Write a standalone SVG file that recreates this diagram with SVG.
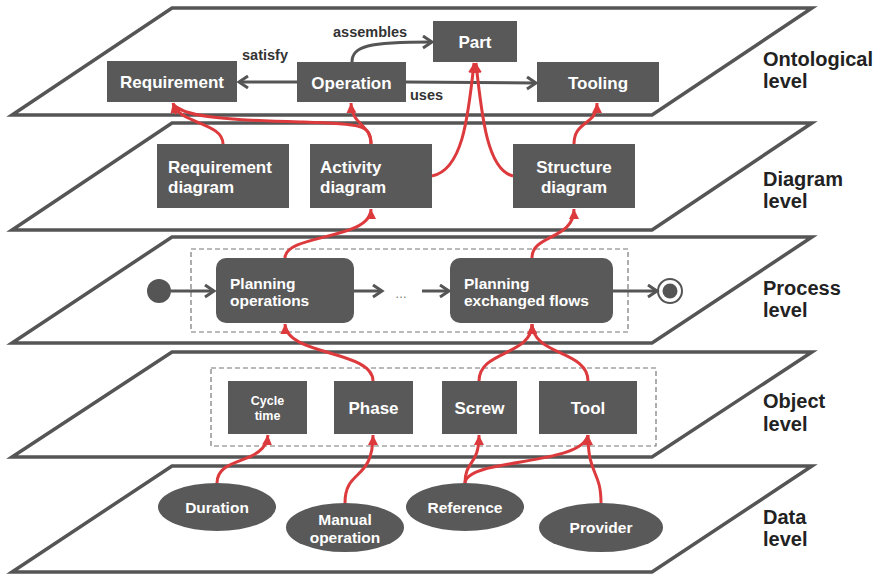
<svg xmlns="http://www.w3.org/2000/svg" width="877" height="574" viewBox="0 0 877 574">
<style>
  .plane { fill: #ffffff; stroke: #555555; stroke-width: 3.5; stroke-linejoin: miter; }
  .node { fill: #595959; }
  .ntext { font-family: "Liberation Sans", Arial, sans-serif; font-weight: bold; fill: #ffffff; font-size: 17px; }
  .stext { font-family: "Liberation Sans", Arial, sans-serif; font-weight: bold; fill: #ffffff; font-size: 12.5px; }
  .ptext { font-family: "Liberation Sans", Arial, sans-serif; font-weight: bold; fill: #ffffff; font-size: 15.5px; }
  .level { font-family: "Liberation Sans", Arial, sans-serif; font-weight: bold; fill: #222222; font-size: 20px; }
  .elabel { font-family: "Liberation Sans", Arial, sans-serif; font-weight: bold; fill: #333333; font-size: 14.5px; }
  .gray { fill: none; stroke: #555555; stroke-width: 3; marker-end: url(#chev); }
  .red { fill: none; stroke: #dc3a3c; stroke-width: 3; marker-end: url(#tri); }
  .dash { fill: none; stroke: #777777; stroke-width: 1.2; stroke-dasharray: 5 3; }
</style>
<defs>
  <marker id="chev" markerUnits="userSpaceOnUse" markerWidth="16" markerHeight="16" refX="10" refY="7" orient="auto" viewBox="0 0 16 16">
    <path d="M1,1 L10,7 L1,13" fill="none" stroke="#555555" stroke-width="3"/>
  </marker>
  <marker id="tri" markerUnits="userSpaceOnUse" markerWidth="12" markerHeight="12" refX="10" refY="5" orient="auto" viewBox="0 0 12 10">
    <path d="M0,0 L10,5 L0,10 z" fill="#dc3a3c"/>
  </marker>
</defs>

<g id="planes">
  <polygon id="plane-ontological" class="plane" points="172,8 812,8 652,115 12,115"/>
  <polygon id="plane-diagram" class="plane" points="172,123 812,123 652,230 12,230"/>
  <polygon id="plane-process" class="plane" points="172,237 812,237 652,343 12,343"/>
  <polygon id="plane-object" class="plane" points="172,352 812,352 652,457 12,457"/>
  <polygon id="plane-data" class="plane" points="172,466 812,466 652,572 12,572"/>
</g>

<g id="level-labels">
  <text class="level" x="763" y="66">Ontological</text>
  <text class="level" x="763" y="88">level</text>
  <text class="level" x="763" y="186">Diagram</text>
  <text class="level" x="763" y="208">level</text>
  <text class="level" x="763" y="295">Process</text>
  <text class="level" x="763" y="317">level</text>
  <text class="level" x="763" y="408">Object</text>
  <text class="level" x="763" y="431">level</text>
  <text class="level" x="763" y="524">Data</text>
  <text class="level" x="763" y="546">level</text>
</g>

<g id="containers">
  <rect class="dash" x="191" y="249" width="437" height="83"/>
  <rect class="dash" x="211" y="368" width="445" height="78"/>
</g>

<!-- Ontological level -->
<g id="node-requirement">
  <rect class="node" x="107" y="61" width="130" height="41"/>
  <text class="ntext" x="172" y="88" text-anchor="middle">Requirement</text>
</g>
<g id="node-operation">
  <rect class="node" x="297" y="62" width="109" height="40"/>
  <text class="ntext" x="351.5" y="89" text-anchor="middle">Operation</text>
</g>
<g id="node-part">
  <rect class="node" x="433" y="21" width="84" height="41"/>
  <text class="ntext" x="475" y="48" text-anchor="middle">Part</text>
</g>
<g id="node-tooling">
  <rect class="node" x="537" y="62" width="122" height="40"/>
  <text class="ntext" x="598" y="89" text-anchor="middle">Tooling</text>
</g>

<!-- Diagram level -->
<g id="node-requirement-diagram">
  <rect class="node" x="157" y="144" width="132" height="64"/>
  <text class="ntext" x="168" y="173">Requirement</text>
  <text class="ntext" x="168" y="193">diagram</text>
</g>
<g id="node-activity-diagram">
  <rect class="node" x="310" y="144" width="122" height="64"/>
  <text class="ntext" x="320" y="173">Activity</text>
  <text class="ntext" x="320" y="193">diagram</text>
</g>
<g id="node-structure-diagram">
  <rect class="node" x="513" y="144" width="122" height="64"/>
  <text class="ntext" x="574" y="173" text-anchor="middle">Structure</text>
  <text class="ntext" x="574" y="193" text-anchor="middle">diagram</text>
</g>

<!-- Process level -->
<g id="node-initial">
  <circle cx="159" cy="291" r="12" fill="#555555"/>
</g>
<g id="node-planning-operations">
  <rect class="node" x="216" y="258" width="138" height="65" rx="10"/>
  <text class="ptext" x="230" y="289">Planning</text>
  <text class="ptext" x="230" y="306">operations</text>
</g>
<g id="node-ellipsis">
  <text x="401" y="298" text-anchor="middle" font-family="Liberation Sans, Arial, sans-serif" font-size="12" fill="#777777">…</text>
</g>
<g id="node-planning-flows">
  <rect class="node" x="450" y="258" width="163" height="65" rx="10"/>
  <text class="ptext" x="464" y="289">Planning</text>
  <text class="ptext" x="464" y="306">exchanged flows</text>
</g>
<g id="node-final">
  <circle cx="670" cy="291" r="12" fill="#ffffff" stroke="#555555" stroke-width="2"/>
  <circle cx="670" cy="291" r="7.5" fill="#555555"/>
</g>

<!-- Object level -->
<g id="node-cycle-time">
  <rect class="node" x="228" y="381" width="79" height="53"/>
  <text class="stext" x="267.5" y="405" text-anchor="middle">Cycle</text>
  <text class="stext" x="267.5" y="420" text-anchor="middle">time</text>
</g>
<g id="node-phase">
  <rect class="node" x="334" y="381" width="79" height="53"/>
  <text class="ntext" x="373.5" y="414" text-anchor="middle">Phase</text>
</g>
<g id="node-screw">
  <rect class="node" x="442" y="381" width="75" height="53"/>
  <text class="ntext" x="479.5" y="414" text-anchor="middle">Screw</text>
</g>
<g id="node-tool">
  <rect class="node" x="539" y="381" width="98" height="53"/>
  <text class="ntext" x="588" y="414" text-anchor="middle">Tool</text>
</g>

<!-- Data level -->
<g id="node-duration">
  <ellipse class="node" cx="217" cy="507" rx="59" ry="24"/>
  <text class="ptext" x="217" y="513" text-anchor="middle">Duration</text>
</g>
<g id="node-manual-operation">
  <ellipse class="node" cx="345" cy="527.5" rx="59" ry="24.5"/>
  <text class="ptext" x="345" y="525" text-anchor="middle">Manual</text>
  <text class="ptext" x="345" y="543" text-anchor="middle">operation</text>
</g>
<g id="node-reference">
  <ellipse class="node" cx="465" cy="507" rx="59" ry="24"/>
  <text class="ptext" x="465" y="513" text-anchor="middle">Reference</text>
</g>
<g id="node-provider">
  <ellipse class="node" cx="601" cy="527.5" rx="62" ry="24.5"/>
  <text class="ptext" x="601" y="533" text-anchor="middle">Provider</text>
</g>

<g id="connectors">
  <!-- ontological relations -->
  <path class="gray" d="M297,82 L239,82"/>
  <path class="gray" d="M352,62 C352,46 368,42 432,42"/>
  <path class="gray" d="M406,82 L536,83"/>
  <text class="elabel" x="242" y="60">satisfy</text>
  <text class="elabel" x="333" y="37">assembles</text>
  <text class="elabel" x="410" y="100">uses</text>

  <!-- diagram to ontological -->
  <path class="red" d="M223,144 C223,122 178,124 173,103"/>
  <path class="red" d="M371,144 C371,124 360,124 300,122 C220,120 182,116 173,104"/>
  <path class="red" d="M371,144 C371,124 352,126 351,103"/>
  <path class="red" d="M432,176 C462,170 468,120 474,63"/>
  <path class="red" d="M513,176 C488,170 482,120 476,63"/>
  <path class="red" d="M574,144 C574,120 597,126 597,103"/>

  <!-- process flow -->
  <path class="gray" d="M171,291 L214,291"/>
  <path class="gray" d="M354,291 L382,291"/>
  <path class="gray" d="M422,291 L449,291"/>
  <path class="gray" d="M613,291 L657,291"/>

  <!-- process to diagram -->
  <path class="red" d="M285,258 C285,234 371,240 371,209"/>
  <path class="red" d="M532,258 C532,234 574,240 574,209"/>

  <!-- object to process -->
  <path class="red" d="M373,381 C373,350 286,356 285,324"/>
  <path class="red" d="M479,381 C479,350 532,356 532,324"/>
  <path class="red" d="M588,381 C588,350 533,356 532,324"/>

  <!-- data to object -->
  <path class="red" d="M217,483 C217,455 265,466 268,435"/>
  <path class="red" d="M345,503 C345,468 373,482 373,435"/>
  <path class="red" d="M465,483 C465,460 479,466 479,435"/>
  <path class="red" d="M465,483 C467,458 582,466 588,435"/>
  <path class="red" d="M601,503 C601,470 588,476 588,435"/>
</g>
</svg>
